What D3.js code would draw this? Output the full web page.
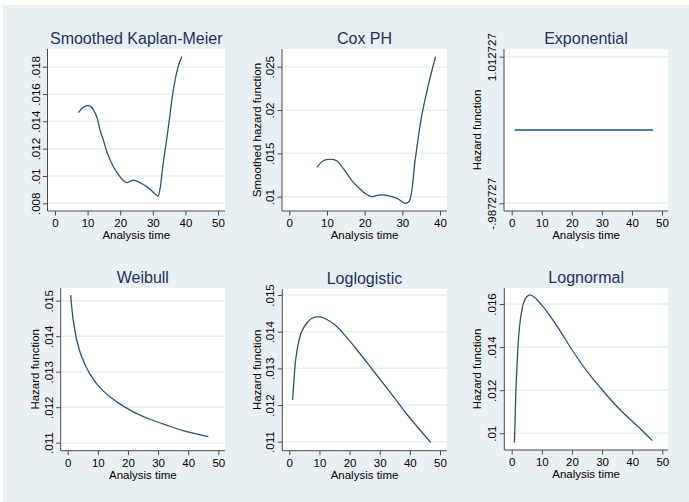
<!DOCTYPE html>
<html>
<head>
<meta charset="utf-8">
<script src="https://cdn.jsdelivr.net/npm/d3@7"></script>
<style>
body { margin: 0; background: #fff; }
text { font-family: "Liberation Sans", Arial, sans-serif; }
</style>
</head>
<body>
<div id="chart"></div>
<script>
// ---- data ----
var kmTime   = [7.2, 8.4, 9.9, 11.0, 11.8, 13.0, 13.8, 15.0, 15.9, 17.9, 19.9, 21.0, 22.0, 23.0, 24.0, 25.0, 26.1, 28.1, 30.0, 31.0, 31.6, 33.2, 34.8, 36.3, 37.8, 38.9];
var kmHazard = [.01464, .01498, .01515, .01508, .01484, .01420, .01337, .01250, .01178, .01068, .00995, .00965, .00951, .00960, .00969, .00965, .00951, .00922, .00885, .00862, .00852, .01093, .01362, .01630, .01802, .01875];

var coxTime   = [7.3, 9.0, 10.8, 12.6, 14.3, 16.5, 18.3, 20.1, 21.9, 23.6, 25.4, 27.2, 28.9, 30.7, 31.8, 33.4, 35.1, 36.9, 38.8];
var coxHazard = [.01338, .01415, .01431, .01415, .01327, .01192, .01108, .01038, .01000, .01019, .01019, .01000, .00973, .00923, .00946, .01423, .01923, .02288, .02615];

var expTime   = [1, 47];
var expHazard = [.012727, .012727];

var weibTime   = [1.0, 1.4, 1.9, 3.0, 4.6, 7.4, 10.7, 16.3, 21.8, 27.3, 32.9, 38.4, 46.7];
var weibHazard = [.01516, .01477, .01442, .01390, .01343, .01293, .01255, .01215, .01187, .01166, .01149, .01134, .01117];

var llogTime   = [1.1, 1.55, 2.1, 3.0, 4.1, 5.75, 7.4, 9.6, 11.8, 15.2, 18.5, 22.9, 28.4, 34.0, 39.5, 46.9];
var llogHazard = [.01214, .01268, .01323, .01368, .01400, .01423, .01436, .01441, .01436, .01418, .01390, .01346, .01288, .01229, .01170, .01098];

var lnormTime   = [0.9, 1.1, 1.4, 1.9, 2.4, 3.1, 3.9, 5.0, 6.1, 7.7, 10.0, 13.3, 16.6, 19.9, 25.4, 31.0, 36.5, 42.0, 46.7];
var lnormHazard = [.00957, .01046, .01201, .01356, .01464, .01549, .01603, .01634, .01642, .01629, .01595, .01533, .01464, .01390, .01280, .01186, .01102, .01030, .00966];

// tick values and labels
var xTicks50 = [0, 10, 20, 30, 40, 50];
var xTicks40 = [0, 10, 20, 30, 40];
var kmYTicks = [.008, .01, .012, .014, .016, .018];
var kmYLabels = ['.008', '.01', '.012', '.014', '.016', '.018'];
var coxYTicks = [.01, .015, .02, .025];
var coxYLabels = ['.01', '.015', '.02', '.025'];
var expYTicks = [-.9872727, 1.012727];
var expYLabels = ['-.9872727', '1.012727'];
var weibYTicks = [.011, .012, .013, .014, .015];
var weibYLabels = ['.011', '.012', '.013', '.014', '.015'];
var lnormYTicks = [.01, .012, .014, .016];
var lnormYLabels = ['.01', '.012', '.014', '.016'];

var titles = ['Smoothed Kaplan-Meier', 'Cox PH', 'Exponential', 'Weibull', 'Loglogistic', 'Lognormal'];
var yTitles = ['', 'Smoothed hazard function', 'Hazard function', 'Hazard function', 'Hazard function', 'Hazard function'];

// ---- layout (pixel boxes of each plot region) ----
var panels = [
    { time: kmTime, haz: kmHazard, xt: xTicks50, yt: kmYTicks, yl: kmYLabels,
      left: 47.5, right: 225, top: 49, bottom: 211, xr: [55, 218], yr: [203.3, 66.7], ytOff: 21 },
    { time: coxTime, haz: coxHazard, xt: xTicks40, yt: coxYTicks, yl: coxYLabels,
      left: 282, right: 447, top: 49, bottom: 211, xr: [289.3, 440], yr: [196.7, 66.7], ytOff: 21 },
    { time: expTime, haz: expHazard, xt: xTicks50, yt: expYTicks, yl: expYLabels,
      left: 504, right: 668, top: 49, bottom: 211, xr: [511.7, 662], yr: [203.3, 56.7], ytOff: 23 },
    { time: weibTime, haz: weibHazard, xt: xTicks50, yt: weibYTicks, yl: weibYLabels,
      left: 60.7, right: 225, top: 288, bottom: 450.7, xr: [67.7, 218.3], yr: [442.7, 300.7], ytOff: 21.7 },
    { time: llogTime, haz: llogHazard, xt: xTicks50, yt: weibYTicks, yl: weibYLabels,
      left: 282.3, right: 446.7, top: 289, bottom: 450.7, xr: [289.3, 440], yr: [441.7, 295], ytOff: 21.6 },
    { time: lnormTime, haz: lnormHazard, xt: xTicks50, yt: lnormYTicks, yl: lnormYLabels,
      left: 504.3, right: 668, top: 288, bottom: 450, xr: [511.7, 662.3], yr: [433.3, 304], ytOff: 23 }
];

var lineColor = '#26527c';
var titleColor = '#1e3160';
var axisColor = '#4a4a4a';
var gridColor = '#e6eff2';

var svg = d3.select('#chart')
    .append('svg')
    .attr('width', 689)
    .attr('height', 502);

// outer graph region
svg.append('rect')
    .attr('x', 3).attr('y', 5)
    .attr('width', 686).attr('height', 497)
    .attr('fill', '#e9f0f3');

panels.forEach(function(p, i) {
    var g = svg.append('g');

    var xScale = d3.scaleLinear()
        .domain([p.xt[0], p.xt[p.xt.length - 1]])
        .range(p.xr);
    var yScale = d3.scaleLinear()
        .domain([p.yt[0], p.yt[p.yt.length - 1]])
        .range(p.yr);

    // plot region
    g.append('rect')
        .attr('x', p.left).attr('y', p.top)
        .attr('width', p.right - p.left).attr('height', p.bottom - p.top)
        .attr('fill', '#fff');

    // grid lines
    g.selectAll('.grid')
        .data(p.yt)
        .enter()
        .append('line')
        .attr('x1', p.left).attr('x2', p.right)
        .attr('y1', function(d) { return yScale(d); })
        .attr('y2', function(d) { return yScale(d); })
        .attr('stroke', gridColor)
        .attr('stroke-width', 1.5);

    // x axis
    var xAxis = g.append('g')
        .attr('transform', 'translate(0,' + p.bottom + ')')
        .call(d3.axisBottom(xScale).tickValues(p.xt).tickSize(4.5).tickSizeOuter(0));
    xAxis.select('.domain').remove();
    xAxis.selectAll('line').attr('stroke', axisColor);
    xAxis.selectAll('text')
        .attr('y', 16).attr('dy', 0)
        .attr('fill', '#000')
        .style('font-size', '11.5px')
        .style('font-family', '"Liberation Sans", Arial, sans-serif');
    g.append('line')
        .attr('x1', p.left).attr('x2', p.right)
        .attr('y1', p.bottom).attr('y2', p.bottom)
        .attr('stroke', axisColor).attr('stroke-width', 1);

    // y axis
    var yAxis = g.append('g')
        .attr('transform', 'translate(' + p.left + ',0)')
        .call(d3.axisLeft(yScale).tickValues(p.yt).tickSize(4.5).tickSizeOuter(0)
            .tickFormat(function(d, j) { return p.yl[j]; }));
    yAxis.select('.domain').remove();
    yAxis.selectAll('line').attr('stroke', axisColor);
    yAxis.selectAll('text')
        .attr('x', 0).attr('y', -8).attr('dy', 0)
        .attr('transform', 'rotate(-90)')
        .attr('text-anchor', 'middle')
        .attr('fill', '#000')
        .style('font-size', '11.5px')
        .style('font-family', '"Liberation Sans", Arial, sans-serif');
    g.append('line')
        .attr('x1', p.left).attr('x2', p.left)
        .attr('y1', p.top).attr('y2', p.bottom)
        .attr('stroke', axisColor).attr('stroke-width', 1);

    // axis titles
    g.append('text')
        .attr('x', (p.left + p.right) / 2)
        .attr('y', p.bottom + 28)
        .attr('text-anchor', 'middle')
        .style('font-size', '11.5px')
        .text('Analysis time');

    if (yTitles[i]) {
        var cy = (p.top + p.bottom) / 2;
        var bx = p.left - p.ytOff;
        g.append('text')
            .attr('transform', 'translate(' + bx + ',' + cy + ') rotate(-90)')
            .attr('text-anchor', 'middle')
            .style('font-size', '11.5px')
            .text(yTitles[i]);
    }

    // panel title
    g.append('text')
        .attr('x', (p.left + p.right) / 2)
        .attr('y', p.top - 5)
        .attr('text-anchor', 'middle')
        .attr('fill', titleColor)
        .style('font-size', '16px')
        .text(titles[i]);

    // hazard curve
    var pts = p.time.map(function(t, j) { return [t, p.haz[j]]; });
    var line = d3.line()
        .x(function(d) { return xScale(d[0]); })
        .y(function(d) { return yScale(d[1]); })
        .curve(d3.curveCatmullRom.alpha(0.5));
    g.append('path')
        .datum(pts)
        .attr('d', line)
        .attr('fill', 'none')
        .attr('stroke', lineColor)
        .attr('stroke-width', 1.3);
});
</script>
</body>
</html>
